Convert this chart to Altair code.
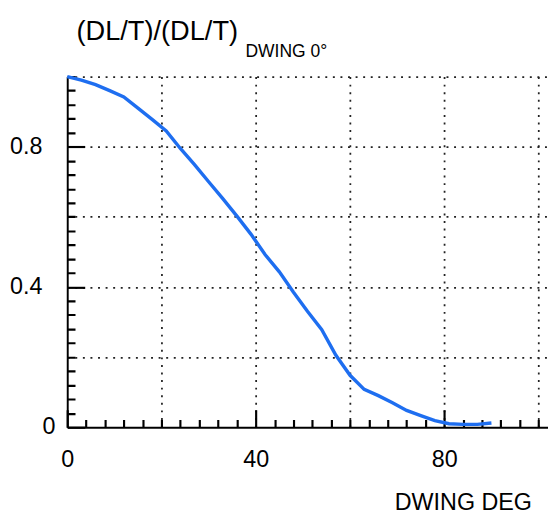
import altair as alt
import pandas as pd

# Curve
deg = [0, 3, 6, 9, 12, 15, 18, 21, 24, 27, 30, 33, 36, 39, 42, 45, 48, 51, 54,
       57, 60, 63, 66, 69, 72, 75, 78, 81, 84, 87, 90]
ratio = [1.000, 0.990, 0.977, 0.960, 0.942, 0.910, 0.878, 0.845, 0.795, 0.749,
         0.700, 0.652, 0.602, 0.550, 0.492, 0.443, 0.385, 0.330, 0.278, 0.205,
         0.148, 0.108, 0.090, 0.070, 0.048, 0.033, 0.019, 0.010, 0.008, 0.008,
         0.012]

# Axis values
x_ticks = list(range(0, 101, 4))          # every tick position (minor + major)
x_grid = [20, 40, 60, 80, 100]
x_major = [0, 40, 80]
x_labels = [0, 40, 80]
y_ticks = [round(0.04 * i, 2) for i in range(0, 26)]
y_grid = [0.2, 0.4, 0.6, 0.8, 1]
y_major = [0, 0.4, 0.8]
y_labels = [0.4, 0.8]

W, H = 495, 361
XDOM = [0, 102]
YDOM = [0, 1]
FONT = "Liberation Sans"
MAJOR, MINOR = 18, 8            # inward tick lengths (px)
MINOR_DASH = [0, MAJOR - MINOR, MINOR]   # hides the outer part of a minor tick

df = pd.DataFrame({"deg": deg, "ratio": ratio})


def xs():
    return alt.Scale(domain=XDOM, nice=False, zero=False)


def ys():
    return alt.Scale(domain=YDOM, nice=False, zero=False)


def axis_common(grid_vals, major_vals):
    gtest = f"indexof({grid_vals}, datum.value) >= 0"
    ztest = "datum.value == 0"
    return dict(
        domain=False, labelOverlap=False, labelFlush=False,
        ticks=True, tickSize=MAJOR, tickColor="black", tickWidth=2.2,
        tickDash={"condition": {"test": f"indexof({major_vals}, datum.value) >= 0", "value": []},
                  "value": MINOR_DASH},
        grid=True,
        gridOpacity={"condition": {"test": f"{gtest} || {ztest}", "value": 1}, "value": 0},
        gridColor={"condition": {"test": ztest, "value": "black"}, "value": "#222222"},
        gridWidth={"condition": {"test": ztest, "value": 2}, "value": 1.8},
        gridDash={"condition": {"test": ztest, "value": []}, "value": [2, 5.8]},
        labelFont=FONT, labelFontSize=24, labelColor="black",
        titleFont=FONT, titleFontWeight="normal", titleColor="black",
    )


# x axis: pulled up by MAJOR px so its (outward) ticks end on the plot's bottom edge
x_axis = alt.Axis(
    orient="bottom", offset=-MAJOR, values=x_ticks,
    labelExpr=f"indexof({x_labels}, datum.value) >= 0 ? format(datum.value, 'd') : ''",
    labelPadding=21,
    title="DWING DEG", titleFontSize=24, titleAlign="right",
    titleBaseline="alphabetic", titleX=478, titleY=85 + MAJOR,
    **axis_common(x_grid, x_major),
)

# y axis: pushed right by MAJOR px so its ticks end on the plot's left edge
y_axis = alt.Axis(
    orient="left", offset=-MAJOR, values=y_ticks,
    labelExpr=(f"datum.value == 0 ? '0' : (indexof({y_labels}, datum.value) >= 0 ? "
               "format(datum.value, '.1f') : '')"),
    labelAlign={"condition": {"test": "datum.value == 0", "value": "left"}, "value": "right"},
    labelBaseline="middle", labelPadding=26,
    title="(DL/T)/(DL/T)", titleFontSize=28, titleAngle=0,
    titleAlign="left", titleBaseline="alphabetic", titleX=9 - MAJOR, titleY=-38,
    **axis_common(y_grid, y_major),
)

line = alt.Chart(df).mark_line(color="#1e6ef0", strokeWidth=3.5).encode(
    x=alt.X("deg:Q", scale=xs(), axis=x_axis),
    y=alt.Y("ratio:Q", scale=ys(), axis=y_axis),
)

# invisible layer whose right-side axis (moved onto the left edge) carries the subscript
sub = alt.Chart(df).mark_line(opacity=0).encode(
    x=alt.X("deg:Q", scale=xs(), axis=x_axis),
    y=alt.Y("ratio:Q", scale=ys(),
            axis=alt.Axis(orient="right", offset=-W, ticks=False, labels=False,
                          domain=False, grid=False, title="DWING 0°", titleFont=FONT,
                          titleFontSize=18, titleFontWeight="normal", titleColor="black",
                          titleAngle=0, titleAlign="left", titleBaseline="alphabetic",
                          titleX=183, titleY=-21)),
)

chart = alt.layer(sub, line).resolve_scale(y="independent").properties(
    width=W, height=H,
    autosize=alt.AutoSizeParams(type="none"),
    padding={"left": 61, "top": 63, "right": 0, "bottom": 91},
).configure_view(strokeWidth=0)

chart.save("out.html", embed_options={"renderer": "svg", "actions": False})
